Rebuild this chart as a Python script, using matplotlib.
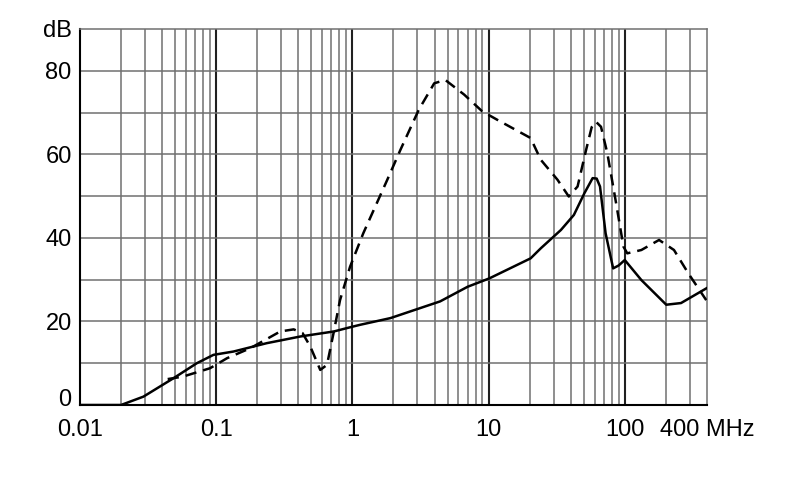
import matplotlib
matplotlib.use("Agg")
import matplotlib.pyplot as plt
import matplotlib.transforms as mtransforms
from matplotlib.ticker import FixedLocator, NullFormatter

plt.rcParams['font.family'] = ['Liberation Sans', 'DejaVu Sans']

# solid curve (MHz, dB)
solid_f = [0.01, 0.02, 0.0292, 0.0485, 0.072, 0.0954, 0.134, 0.235, 0.415, 0.73,
           0.96, 1.14, 1.9, 4.4, 7.0, 10.1, 20.3, 24.1, 33.9, 42.2, 50.4, 57.9,
           62, 65.6, 72.1, 81.9, 90, 99.7, 132, 201, 258, 395, 400]
solid_db = [0, 0, 2.0, 6.4, 10.0, 12.0, 12.8, 14.8, 16.4, 17.6,
            18.6, 19.2, 20.8, 24.8, 28.3, 30.3, 35.1, 37.5, 41.9, 45.5, 50.7, 54.3,
            54.2, 52.3, 41.1, 32.7, 33.4, 34.7, 29.9, 24.0, 24.4, 27.9, 28]

# dashed curve (MHz, dB)
dash_f = [0.044, 0.057, 0.09, 0.12, 0.178, 0.295, 0.37, 0.43, 0.49, 0.58, 0.65,
          0.73, 0.81, 0.96, 1.2, 1.8, 2.25, 3.07, 3.98, 4.8, 6.6, 8.95, 11.5,
          20.3, 24.1, 32, 38.7, 44.9, 51.8, 57, 61.2, 66.7, 74.2, 86.1, 97.5,
          104, 132, 178, 229, 292, 395]
dash_db = [6.2, 6.8, 8.8, 11.2, 13.6, 17.6, 18.1, 17.2, 14.0, 8.4, 9.6,
           17.6, 25.1, 33.1, 41.1, 53.9, 61.1, 70.7, 77.0, 77.8, 74.3, 70.3, 68.3,
           63.9, 58.7, 53.9, 49.9, 52.3, 61.0, 66.5, 67.8, 66.6, 60.3, 48.3, 37.9,
           36.3, 37.1, 39.5, 37.1, 31.5, 25.1]

x_ticks = [0.01, 0.1, 1, 10, 100, 400]
x_labels = ["0.01", "0.1", "1", "10", "100", "400 MHz"]
y_ticks = [0, 20, 40, 60, 80, 90]
y_labels = ["0", "20", "40", "60", "80", "dB"]

fig = plt.figure(figsize=(7.9, 4.99), dpi=100)
ax = fig.add_axes([0.1013, 0.1884, 0.7936, 0.7535])
ax.set_xscale("log")
ax.set_xlim(0.01, 400)
ax.set_ylim(0, 90)

# grid
minor = [m * 10.0 ** e for e in range(-2, 3) for m in range(2, 10) if m * 10.0 ** e < 400]
for v in minor:
    ax.axvline(v, color="#707070", lw=1.1, zorder=1)
for v in [0.1, 1, 10, 100]:
    ax.axvline(v, color="#202020", lw=1.5, zorder=1)
for v in range(10, 90, 10):
    ax.axhline(v, color="#707070", lw=1.1, zorder=1)

ax.plot(solid_f, solid_db, color="black", lw=1.8, zorder=3)
ax.plot(dash_f, dash_db, color="black", lw=1.8, ls=(0, (4.5, 2.8)), zorder=3)

ax.xaxis.set_major_locator(FixedLocator(x_ticks))
ax.xaxis.set_minor_formatter(NullFormatter())
ax.xaxis.set_minor_locator(FixedLocator([]))
ax.set_xticklabels(x_labels)
ax.set_yticks(y_ticks)
ax.set_yticklabels(y_labels)
ax.tick_params(length=0, labelsize=17, colors="black")
ax.tick_params(axis="x", pad=10)
ax.tick_params(axis="y", pad=6)

# lift the "0" label a little, as in the original
lab0 = ax.get_yticklabels()[0]
lab0.set_transform(lab0.get_transform() + mtransforms.ScaledTranslation(0, 7 / 100, fig.dpi_scale_trans))

for s in ["top", "right"]:
    ax.spines[s].set_color("#707070")
    ax.spines[s].set_linewidth(1.1)
for s in ["left", "bottom"]:
    ax.spines[s].set_color("black")
    ax.spines[s].set_linewidth(1.5)

fig.savefig("out.png", dpi=100)
